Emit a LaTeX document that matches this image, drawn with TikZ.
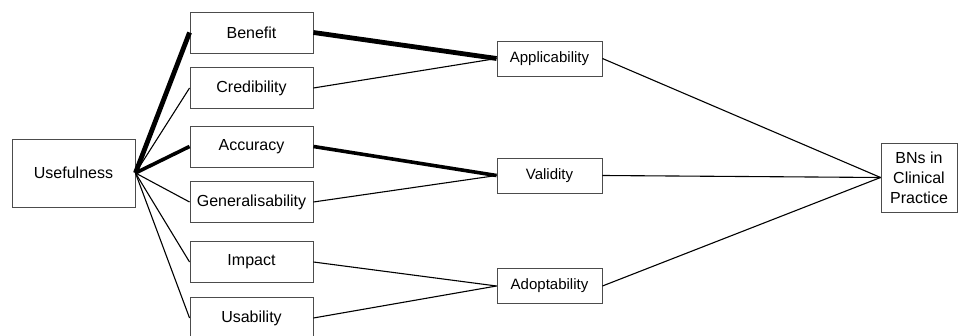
\documentclass[tikz,border=0pt]{standalone}
\usepackage{fontspec}
\setmainfont{Liberation Sans}
\begin{document}
\begin{tikzpicture}[x=1pt,y=-1pt,
  box/.style={draw=black!70,line width=0.9pt,rectangle,inner sep=0pt,font=\fontsize{16}{19}\selectfont},
  midbox/.style={box,minimum width=123pt,minimum height=41pt},
  rbox/.style={box,minimum width=105pt,minimum height=35pt,font=\fontsize{15}{18}\selectfont},
  link/.style={line width=1.1pt},
  heavy/.style={line width=3.6pt},
  heavier/.style={line width=4.8pt}]
\useasboundingbox (0,0) rectangle (959,336);
% root
\node[box,minimum width=123pt,minimum height=68pt] (use) at (73.5,173) {Usefulness};
% criteria
\node[midbox] (ben) at (251.5,32.5) {Benefit};
\node[midbox] (cred) at (251.5,88) {Credibility};
\node[midbox] (acc) at (251.5,146.5) {Accuracy};
\node[midbox] (gen) at (251.5,202) {Generalisability};
\node[midbox] (imp) at (251.5,262) {Impact};
\node[midbox] (usa) at (251.5,318) {Usability};
% aggregate properties
\node[rbox] (app) at (549.5,58.5) {Applicability};
\node[rbox] (val) at (549.5,175.5) {Validity};
\node[rbox] (ado) at (549.5,286) {Adoptability};
% goal
\node[box,minimum width=76pt,minimum height=69pt,align=center,font=\fontsize{16}{20}\selectfont] (bns) at (919,177.5) {BNs in\\Clinical\\Practice};
% connectors
\draw[heavier] (use.east) -- (ben.west);
\draw[link] (use.east) -- (cred.west);
\draw[heavy] (use.east) -- (acc.west);
\draw[link] (use.east) -- (gen.west);
\draw[link] (use.east) -- (imp.west);
\draw[link] (use.east) -- (usa.west);
\draw[heavier] (ben.east) -- (app.west);
\draw[link] (cred.east) -- (app.west);
\draw[heavy] (acc.east) -- (val.west);
\draw[link] (gen.east) -- (val.west);
\draw[link] (imp.east) -- (ado.west);
\draw[link] (usa.east) -- (ado.west);
\draw[link] (app.east) -- (bns.west);
\draw[link] (val.east) -- (bns.west);
\draw[link] (ado.east) -- (bns.west);
\end{tikzpicture}
\end{document}
